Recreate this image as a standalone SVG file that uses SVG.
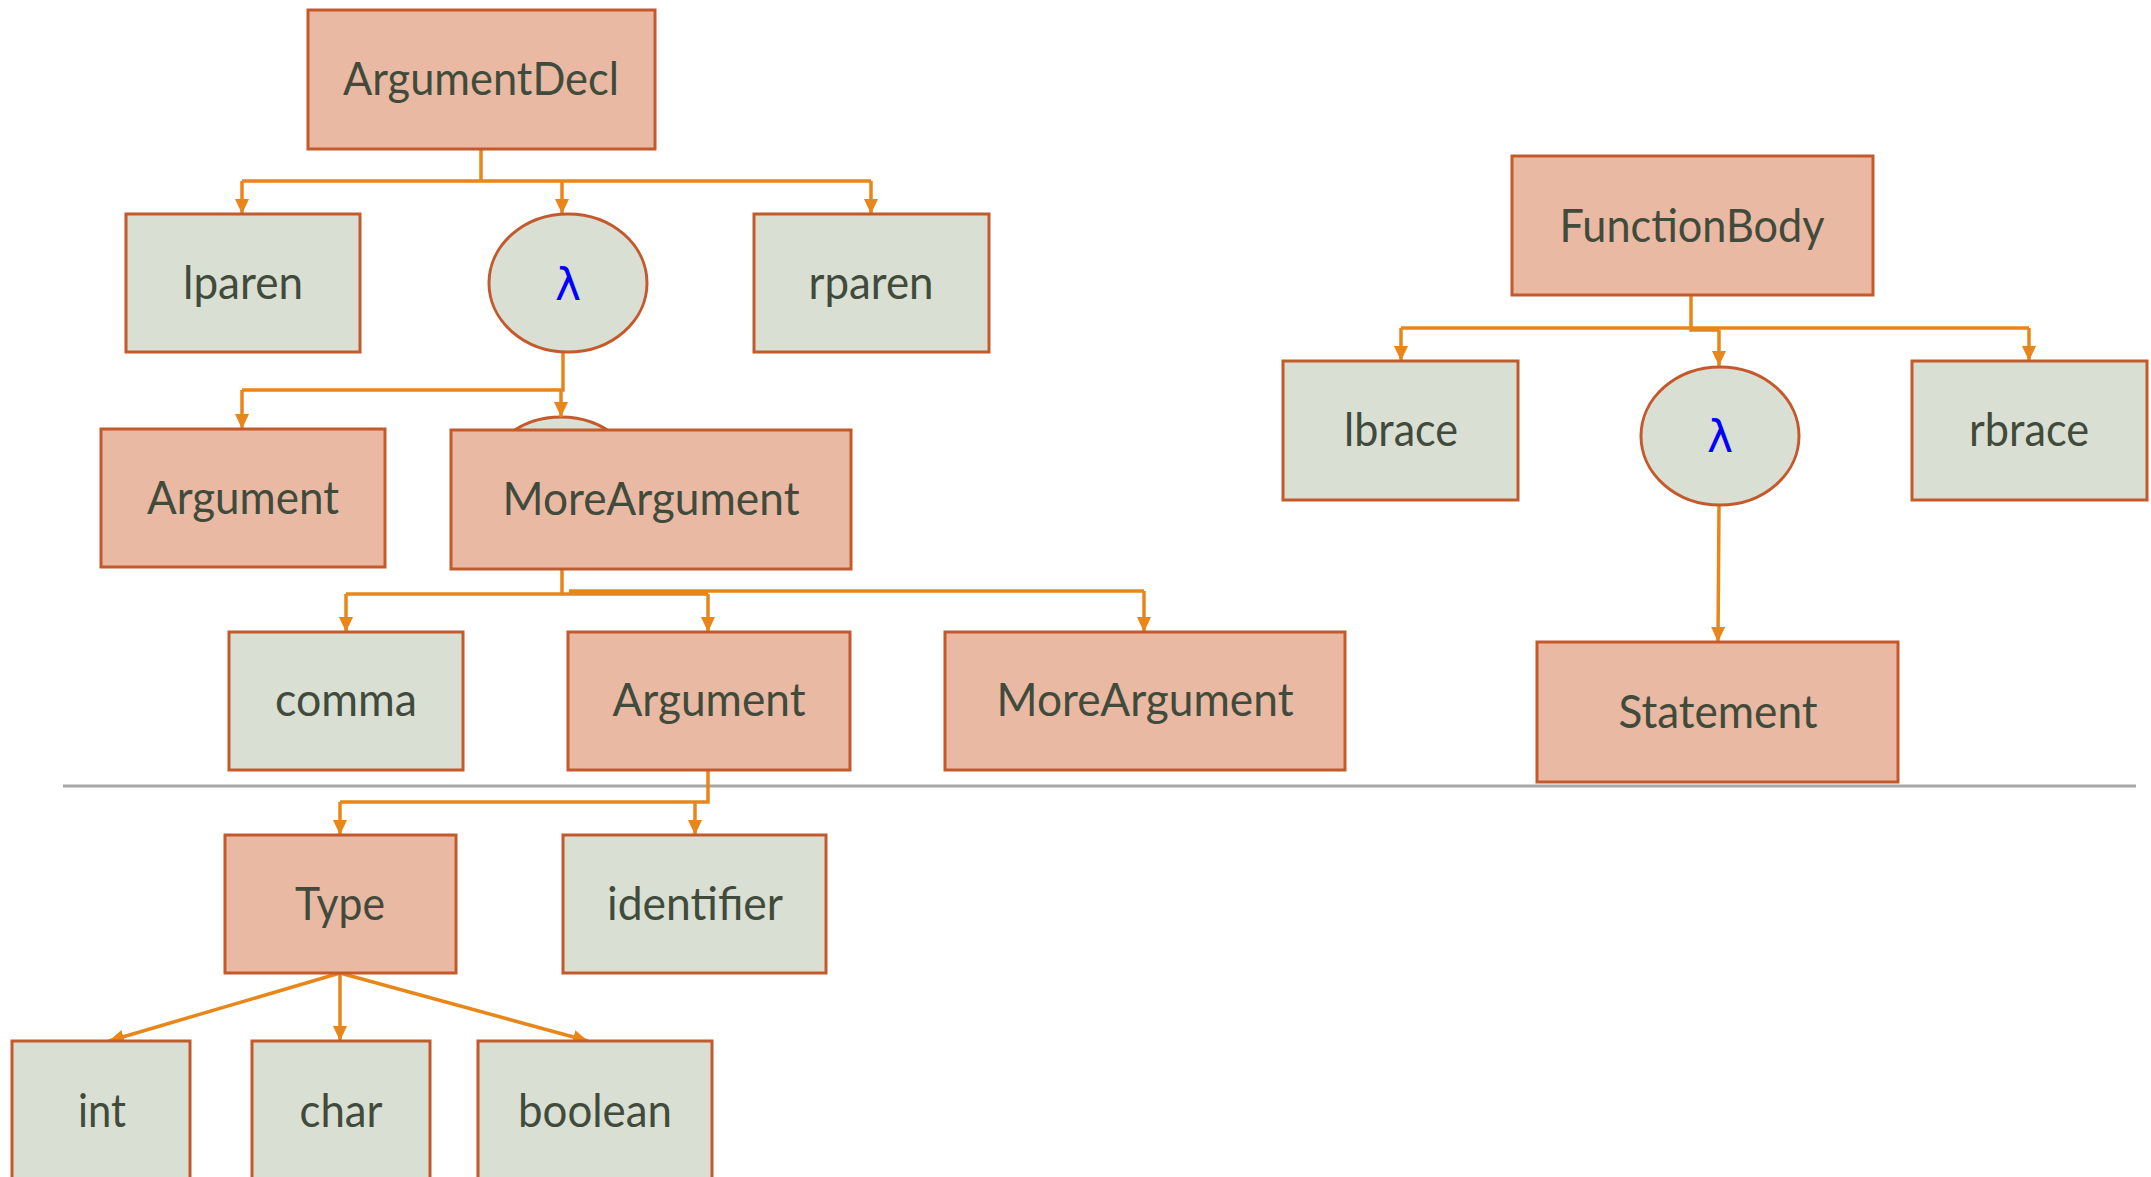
<svg xmlns="http://www.w3.org/2000/svg" width="2151" height="1177" viewBox="0 0 2151 1177">
<defs>
<style>
.nt{fill:#E9B9A3;stroke:#C45A2C;stroke-width:3}
.t{fill:#D9DFD3;stroke:#C45A2C;stroke-width:3}
.lbl{font-family:Lato,"Open Sans",sans-serif;font-size:46px;fill:#414B3B;text-anchor:middle}
.lam{font-family:"DejaVu Sans",sans-serif;font-size:44px;fill:#0000FF;text-anchor:middle}
.c{fill:none;stroke:#E8861A;stroke-width:3.5}
.ca{fill:none;stroke:#E8861A;stroke-width:3.5;marker-end:url(#ah)}
</style>
<marker id="ah" viewBox="0 0 15 14" refX="15" refY="7" markerWidth="15" markerHeight="14" markerUnits="userSpaceOnUse" orient="auto">
<path d="M0 0 L15 7 L0 14 Z" fill="#E8861A"/>
</marker>
</defs>
<rect width="2151" height="1177" fill="#FFFFFF"/>
<line x1="63" y1="786" x2="2136" y2="786" stroke="#A6A6A6" stroke-width="3"/>

<g id="hidden-lambda"><ellipse class="t" cx="561" cy="486" rx="79" ry="69"/></g>

<g id="connectors">
<path class="c" d="M481 149 V181 M242 181 H871"/>
<path class="ca" d="M242 181 V214"/>
<path class="ca" d="M562 181 V214"/>
<path class="ca" d="M871 181 V214"/>
<path class="c" d="M563 352 V390 H242"/>
<path class="ca" d="M242 390 V429"/>
<path class="ca" d="M561 390 V417"/>
<path class="c" d="M562 569 V594 M346 594 H708 M569 591 H1144"/>
<path class="ca" d="M346 594 V632"/>
<path class="ca" d="M708 594 V632"/>
<path class="ca" d="M1144 591 V632"/>
<path class="c" d="M708 770 V802 H340"/>
<path class="ca" d="M340 802 V835"/>
<path class="ca" d="M695 802 V835"/>
<path class="ca" d="M340 973 L109 1041"/>
<path class="ca" d="M340 973 V1041"/>
<path class="ca" d="M340 973 L588 1041"/>
<path class="c" d="M1691 295 V330 H1719 M1401 328 H2029"/>
<path class="ca" d="M1401 328 V361"/>
<path class="ca" d="M1719 330 V366"/>
<path class="ca" d="M2029 328 V361"/>
<path class="ca" d="M1719 505 L1718 642"/>
</g>

<g id="ArgumentDecl"><rect class="nt" x="308" y="10" width="347" height="139"/><text class="lbl" x="481" y="95" textLength="276" lengthAdjust="spacingAndGlyphs">ArgumentDecl</text></g>
<g id="lparen"><rect class="t" x="126" y="214" width="234" height="138"/><text class="lbl" x="243" y="299" textLength="120" lengthAdjust="spacingAndGlyphs">lparen</text></g>
<g id="lambda1"><ellipse class="t" cx="568" cy="283" rx="79" ry="69"/><text class="lam" x="568" y="300">λ</text></g>
<g id="rparen"><rect class="t" x="754" y="214" width="235" height="138"/><text class="lbl" x="871" y="299" textLength="125" lengthAdjust="spacingAndGlyphs">rparen</text></g>
<g id="Argument1"><rect class="nt" x="101" y="429" width="284" height="138"/><text class="lbl" x="243" y="514" textLength="192" lengthAdjust="spacingAndGlyphs">Argument</text></g>
<g id="MoreArgument1"><rect class="nt" x="451" y="430" width="400" height="139"/><text class="lbl" x="651" y="515" textLength="297" lengthAdjust="spacingAndGlyphs">MoreArgument</text></g>
<g id="comma"><rect class="t" x="229" y="632" width="234" height="138"/><text class="lbl" x="346" y="716" textLength="142" lengthAdjust="spacingAndGlyphs">comma</text></g>
<g id="Argument2"><rect class="nt" x="568" y="632" width="282" height="138"/><text class="lbl" x="709" y="716" textLength="193" lengthAdjust="spacingAndGlyphs">Argument</text></g>
<g id="MoreArgument2"><rect class="nt" x="945" y="632" width="400" height="138"/><text class="lbl" x="1145" y="716" textLength="297" lengthAdjust="spacingAndGlyphs">MoreArgument</text></g>
<g id="Type"><rect class="nt" x="225" y="835" width="231" height="138"/><text class="lbl" x="340" y="920" textLength="90" lengthAdjust="spacingAndGlyphs">Type</text></g>
<g id="identifier"><rect class="t" x="563" y="835" width="263" height="138"/><text class="lbl" x="695" y="920" textLength="176" lengthAdjust="spacingAndGlyphs">identifier</text></g>
<g id="int"><rect class="t" x="12" y="1041" width="178" height="150"/><text class="lbl" x="102" y="1127" textLength="48" lengthAdjust="spacingAndGlyphs">int</text></g>
<g id="char"><rect class="t" x="252" y="1041" width="178" height="150"/><text class="lbl" x="341" y="1127" textLength="83" lengthAdjust="spacingAndGlyphs">char</text></g>
<g id="boolean"><rect class="t" x="478" y="1041" width="234" height="150"/><text class="lbl" x="595" y="1127" textLength="154" lengthAdjust="spacingAndGlyphs">boolean</text></g>
<g id="FunctionBody"><rect class="nt" x="1512" y="156" width="361" height="139"/><text class="lbl" x="1692" y="242" textLength="265" lengthAdjust="spacingAndGlyphs">FunctionBody</text></g>
<g id="lbrace"><rect class="t" x="1283" y="361" width="235" height="139"/><text class="lbl" x="1401" y="446" textLength="114" lengthAdjust="spacingAndGlyphs">lbrace</text></g>
<g id="lambda2"><ellipse class="t" cx="1720" cy="436" rx="79" ry="69"/><text class="lam" x="1720" y="452">λ</text></g>
<g id="rbrace"><rect class="t" x="1912" y="361" width="235" height="139"/><text class="lbl" x="2029" y="446" textLength="120" lengthAdjust="spacingAndGlyphs">rbrace</text></g>
<g id="Statement"><rect class="nt" x="1537" y="642" width="361" height="140"/><text class="lbl" x="1718" y="728" textLength="199" lengthAdjust="spacingAndGlyphs">Statement</text></g>
</svg>
